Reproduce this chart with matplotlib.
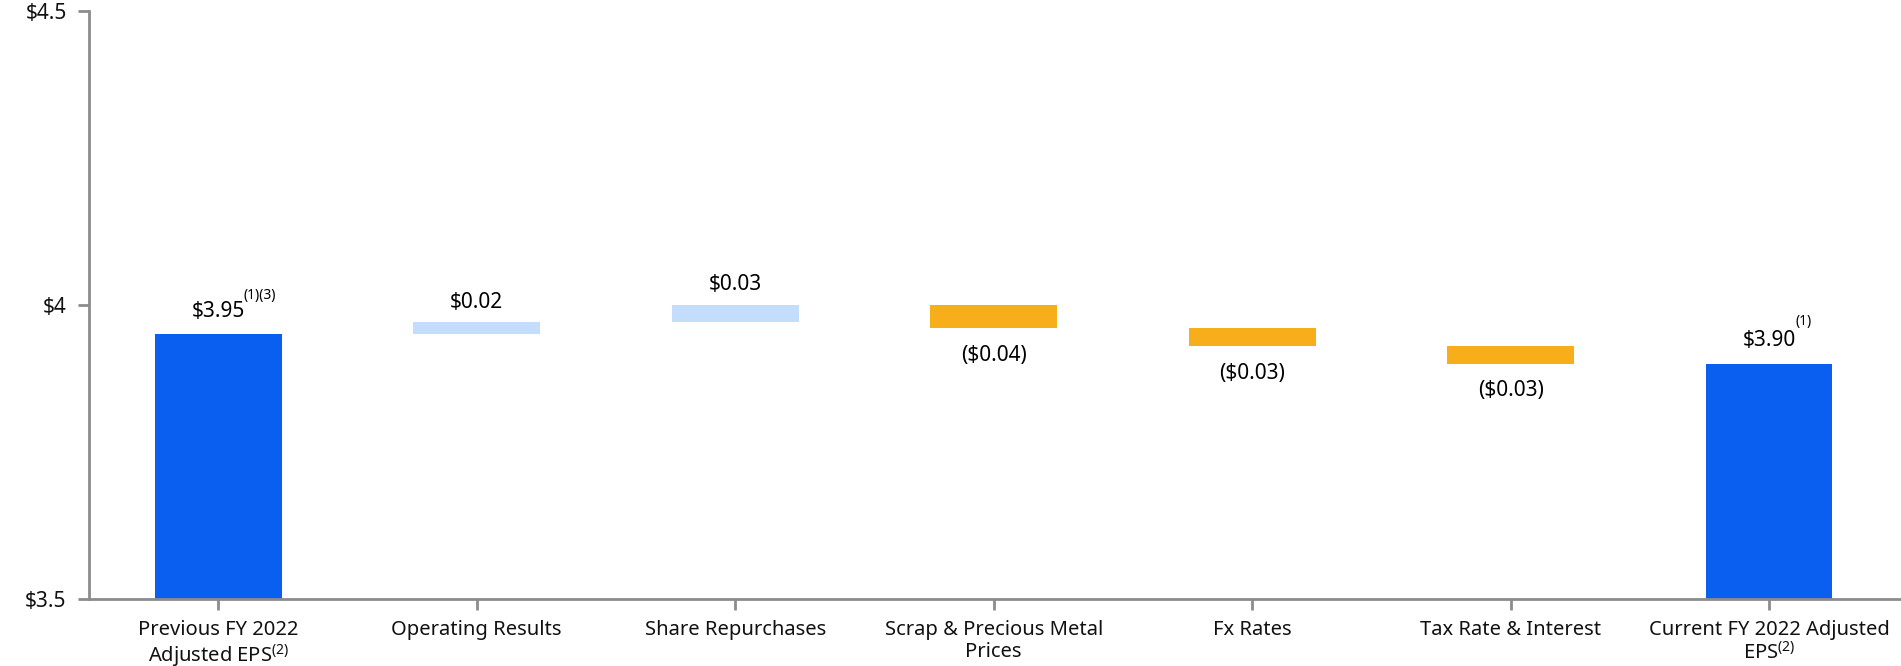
import matplotlib
matplotlib.use("Agg")
import matplotlib.pyplot as plt

plt.rcParams['font.family'] = ['Noto Sans', 'DejaVu Sans']
plt.rcParams['mathtext.fontset'] = 'custom'
plt.rcParams['mathtext.rm'] = 'Noto Sans'
plt.rcParams['mathtext.it'] = 'Noto Sans'

# EPS bridge data
categories = ["Previous FY 2022\nAdjusted EPS$^{(2)}$", "Operating Results", "Share Repurchases",
              "Scrap & Precious Metal\nPrices", "Fx Rates", "Tax Rate & Interest",
              "Current FY 2022 Adjusted\nEPS$^{(2)}$"]
start_eps = 3.95
changes = [0.02, 0.03, -0.04, -0.03, -0.03]
end_eps = 3.90
value_labels = ["$3.95", "$0.02", "$0.03", "($0.04)", "($0.03)", "($0.03)", "$3.90"]
footnotes = ["(1)(3)", "", "", "", "", "", "(1)"]
yticks = [3.5, 4.0, 4.5]
ytick_labels = ["$3.5", "$4", "$4.5"]

blue = "#0A5EF0"
up_color = "#C4DDFC"
down_color = "#F8AD1A"
axis_gray = "#8C8C8C"

fig = plt.figure(figsize=(19.01, 6.66), dpi=100)
ax = fig.add_axes([0.0468, 0.101, 0.9532, 0.8825])

width = 0.49
# totals
ax.bar(0, start_eps - 3.5, bottom=3.5, width=width, color=blue)
ax.bar(6, end_eps - 3.5, bottom=3.5, width=width, color=blue)

# floating change bars
level = start_eps
for i, c in enumerate(changes, start=1):
    bottom = level if c > 0 else level + c
    ax.bar(i, abs(c), bottom=bottom, width=width, color=up_color if c > 0 else down_color)
    level += c

# running levels after each step
level = start_eps
tops = [start_eps]
for c in changes:
    level += c
    tops.append(level)
tops.append(end_eps)

# value labels
for i, lab in enumerate(value_labels):
    if i in (0, 6):
        ax.annotate(lab, (i, tops[i]), xytext=(0, 9), textcoords="offset points",
                    ha="center", va="bottom", fontsize=15)
        ax.annotate(footnotes[i], (i, tops[i]), xytext=(18 if i == 0 else 19, 22.5 if i == 0 else 25),
                    textcoords="offset points", ha="left", va="bottom", fontsize=10)
    elif changes[i - 1] > 0:
        ax.annotate(lab, (i, tops[i]), xytext=(0, 7), textcoords="offset points",
                    ha="center", va="bottom", fontsize=15)
    else:
        ax.annotate(lab, (i, tops[i]), xytext=(0, -12), textcoords="offset points",
                    ha="center", va="top", fontsize=15)

ax.set_xlim(-0.5, 6.51)
ax.set_ylim(3.5, 4.5)
ax.set_xticks(range(len(categories)))
ax.set_xticklabels(categories, fontsize=14.5, linespacing=1.15)
ax.set_yticks(yticks)
ax.set_yticklabels(ytick_labels, fontsize=15)

for s in ("top", "right"):
    ax.spines[s].set_visible(False)
for s in ("left", "bottom"):
    ax.spines[s].set_color(axis_gray)
    ax.spines[s].set_linewidth(2)
ax.tick_params(axis="both", colors=axis_gray, width=2, length=8, labelcolor="#111111")
ax.tick_params(axis="y", pad=8)
ax.tick_params(axis="x", pad=7)

fig.savefig("out.png", dpi=100)
